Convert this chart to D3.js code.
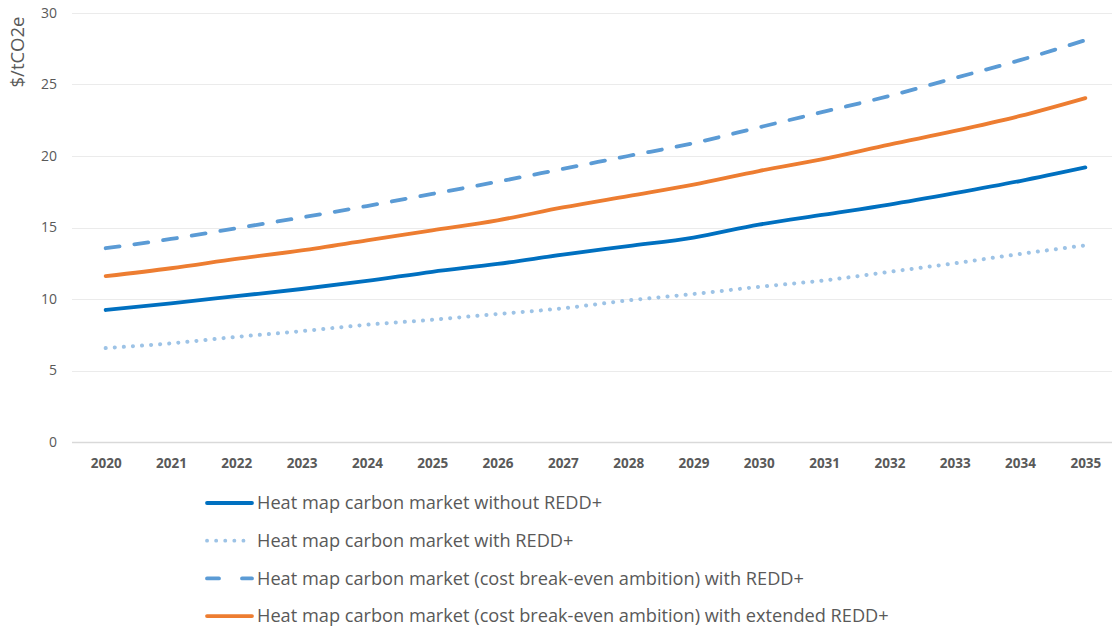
<!DOCTYPE html>
<html>
<head>
<meta charset="utf-8">
<script src="https://cdn.jsdelivr.net/npm/d3@7"></script>
<style>
  body { margin: 0; background: #fff; }
  svg { display: block; font-family: "Open Sans", sans-serif; }
</style>
</head>
<body>
<svg id="chart" width="1112" height="635"></svg>
<script>
// chart data
var years = ["2020","2021","2022","2023","2024","2025","2026","2027","2028","2029","2030","2031","2032","2033","2034","2035"];
var withoutRedd = [9.23, 9.7, 10.2, 10.7, 11.26, 11.9, 12.45, 13.1, 13.7, 14.3, 15.2, 15.9, 16.6, 17.4, 18.25, 19.2];
var withRedd = [6.57, 6.9, 7.35, 7.75, 8.2, 8.55, 8.95, 9.35, 9.9, 10.35, 10.85, 11.3, 11.9, 12.5, 13.15, 13.75];
var breakEvenRedd = [13.55, 14.2, 14.95, 15.7, 16.5, 17.35, 18.2, 19.1, 20.0, 20.9, 22.0, 23.1, 24.2, 25.45, 26.7, 28.1];
var breakEvenExtended = [11.6, 12.15, 12.8, 13.4, 14.1, 14.8, 15.5, 16.4, 17.2, 18.0, 18.95, 19.8, 20.8, 21.75, 22.8, 24.05];
var yTicks = [0, 5, 10, 15, 20, 25, 30];

var series = [
    {name: "Heat map carbon market without REDD+", values: withoutRedd, color: "#0070c0", dash: null},
    {name: "Heat map carbon market with REDD+", values: withRedd, color: "#9dc3e6", dash: "0.1 9"},
    {name: "Heat map carbon market (cost break-even ambition) with REDD+", values: breakEvenRedd, color: "#5b9bd5", dash: "14 15"},
    {name: "Heat map carbon market (cost break-even ambition) with extended REDD+", values: breakEvenExtended, color: "#ed7d31", dash: null}
];

var svg = d3.select("#chart");
var plot_left = 73, plot_right = 1118, plot_top = 13, plot_bottom = 442;

var x = d3.scalePoint().domain(years).range([plot_left, plot_right]).padding(0.5);
var y = d3.scaleLinear().domain([0, 30]).range([plot_bottom, plot_top]);

// grid
svg.append("g")
    .selectAll("line")
    .data(yTicks)
    .enter()
    .append("line")
        .attr("x1", 72)
        .attr("x2", 1112)
        .attr("y1", function(d) { return Math.round(y(d)) + 0.5; })
        .attr("y2", function(d) { return Math.round(y(d)) + 0.5; })
        .attr("stroke", function(d) { return d == 0 ? "#d9d9d9" : "#ebebeb"; })
        .attr("stroke-width", function(d) { return d == 0 ? 1.5 : 1; });

// y axis labels
var yAxis = svg.append("g")
    .attr("transform", "translate(57,0)")
    .call(d3.axisLeft(y).tickValues(yTicks).tickSize(0).tickPadding(0));
yAxis.select(".domain").remove();
yAxis.selectAll("text")
    .attr("font-family", "Open Sans, sans-serif")
    .attr("font-size", 14)
    .attr("fill", "#595959");

// x axis labels
var xAxis = svg.append("g")
    .attr("transform", "translate(0," + 458 + ")")
    .call(d3.axisBottom(x).tickSize(0).tickPadding(0));
xAxis.select(".domain").remove();
xAxis.selectAll("text")
    .attr("dy", "0.71em")
    .attr("font-family", "Open Sans, sans-serif")
    .attr("font-weight", "bold")
    .attr("font-size", 13.5)
    .attr("fill", "#595959");

// y title
svg.append("text")
    .attr("transform", "translate(24,52) rotate(-90)")
    .attr("text-anchor", "middle")
    .attr("font-size", 18.5)
    .attr("fill", "#595959")
    .text("$/tCO2e");

var line = d3.line()
    .x(function(d, i) { return x(years[i]); })
    .y(function(d) { return y(d); })
    .curve(d3.curveMonotoneX);

svg.append("g")
    .selectAll("path")
    .data(series)
    .enter()
    .append("path")
        .attr("d", function(d) { return line(d.values); })
        .attr("fill", "none")
        .attr("stroke", function(d) { return d.color; })
        .attr("stroke-width", function(d) { return d.dash == "0.1 9" ? 4 : 3.8; })
        .attr("stroke-linecap", "round")
        .attr("stroke-dasharray", function(d) { return d.dash; });

// legend
var legend = svg.append("g")
    .selectAll("g")
    .data(series)
    .enter()
    .append("g")
        .attr("transform", function(d, i) { return "translate(0," + (503 + i * 37.7) + ")"; });

legend.append("line")
    .attr("x1", 207)
    .attr("x2", 252)
    .attr("stroke", function(d) { return d.color; })
    .attr("stroke-width", 3.8)
    .attr("stroke-linecap", "round")
    .attr("stroke-dasharray", function(d) { return d.dash == "14 15" ? "12 23" : d.dash; });

legend.append("text")
    .attr("x", 257)
    .attr("dy", "0.35em")
    .attr("font-size", 18.2)
    .attr("fill", "#595959")
    .text(function(d) { return d.name; });
</script>
</body>
</html>
